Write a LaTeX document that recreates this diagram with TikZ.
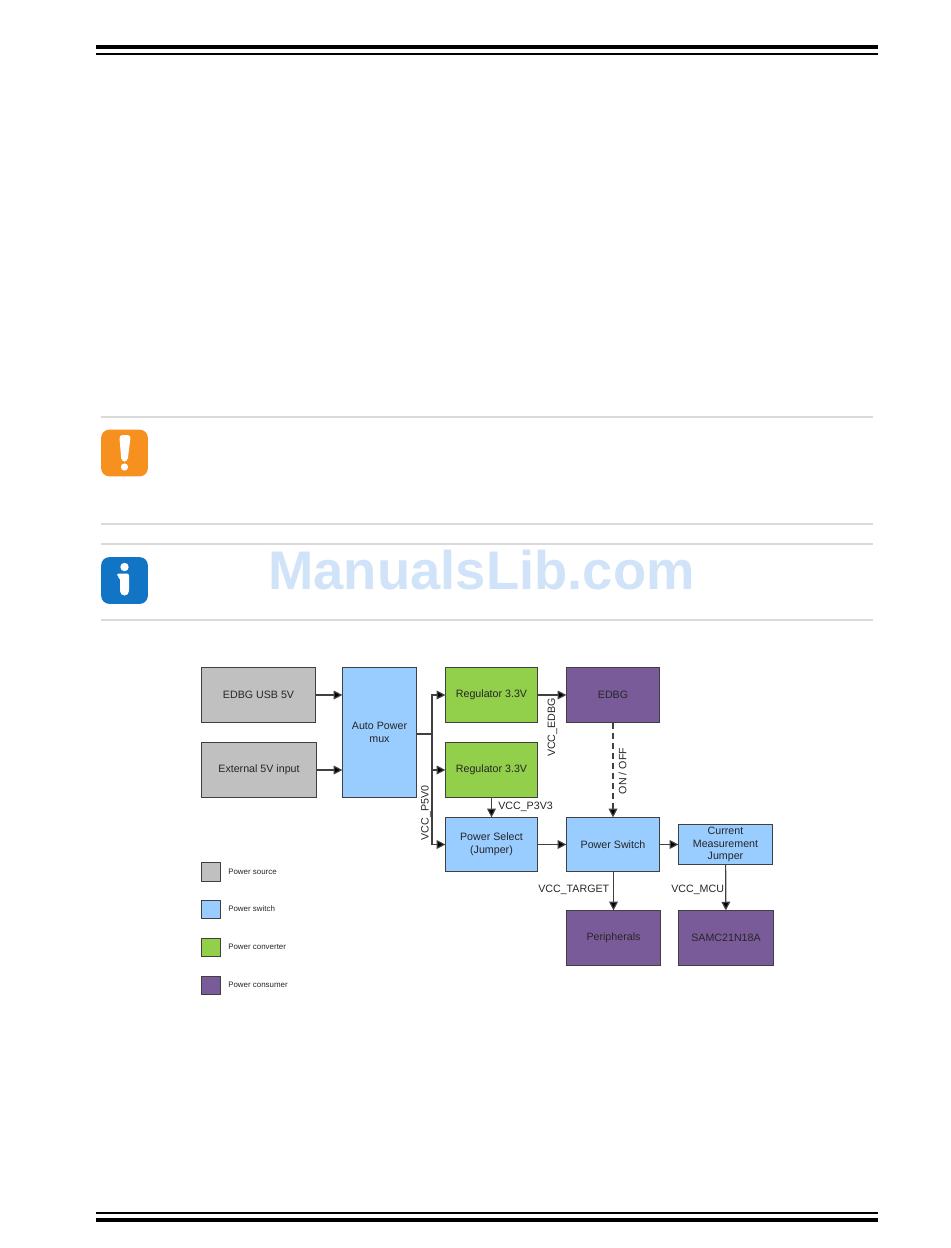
\documentclass[tikz,border=0pt]{standalone}
\usepackage{fontspec}
\setmainfont{Liberation Sans}
\usetikzlibrary{arrows.meta}
\definecolor{srcgray}{HTML}{C0C0C0}
\definecolor{swblue}{HTML}{99CCFF}
\definecolor{convgreen}{HTML}{92CF4A}
\definecolor{conspurple}{HTML}{7A5B99}
\definecolor{edgegray}{HTML}{404040}
\definecolor{rulegray}{HTML}{DADADA}
\definecolor{marktext}{HTML}{D0E3F9}
\definecolor{warnorange}{HTML}{F6901E}
\definecolor{infoblue}{HTML}{1274C4}
\definecolor{labeltext}{HTML}{262626}
\tikzset{
  x=0.75pt,y=-0.75pt,
  blockbox/.style={draw=edgegray,line width=0.85pt,inner sep=0pt,outer sep=0pt,align=center,font=\fontsize{8}{9.6}\selectfont,text=labeltext},
  srcbox/.style={blockbox,fill=srcgray},
  swbox/.style={blockbox,fill=swblue},
  convbox/.style={blockbox,fill=convgreen},
  consbox/.style={blockbox,fill=conspurple},
  wire/.style={draw=edgegray,line width=0.9pt},
  arrowwire/.style={wire,-{Triangle[length=6.5pt,width=6.5pt,fill=black]}},
  sig/.style={font=\fontsize{8}{9}\selectfont,text=labeltext,inner sep=0pt},
  legendtext/.style={font=\fontsize{5.95}{7}\selectfont,text=labeltext,inner sep=0pt,anchor=west},
  thickbar/.style={draw=black,line width=3.2pt},
  thinbar/.style={draw=black,line width=1.2pt},
  grayrule/.style={draw=rulegray,line width=1.4pt},
  iconbox/.style={rounded corners=6pt,draw=none,inner sep=0pt,minimum width=35pt,minimum height=35pt},
}
\newcommand{\blk}[7]{\node[#1,minimum width=#5*0.75pt-#4*0.75pt-0.6pt,minimum height=#7*0.75pt-#6*0.75pt-0.6pt] (#2) at ({(#4+#5)/2},{(#6+#7)/2}) {#3};}
\begin{document}
\begin{tikzpicture}
\useasboundingbox (0,0) rectangle (950,1248);
% page bars
\draw[thickbar] (96,47) -- (878,47);
\draw[thinbar] (96,54.2) -- (878,54.2);
\draw[thinbar] (96,1213) -- (878,1213);
\draw[thickbar] (96,1220) -- (878,1220);
% gray rules
\draw[grayrule] (101,417) -- (873,417);
\draw[grayrule] (101,524) -- (873,524);
\draw[grayrule] (101,544) -- (873,544);
\draw[grayrule] (101,620) -- (873,620);
% watermark
\node[inner sep=0pt,text=marktext,font=\bfseries\fontsize{40.8}{41}\selectfont] (mark) at (481.5,570) {ManualsLib.com};
% icons
\node[iconbox,fill=warnorange] (warnicon) at (124.5,453) {};
\fill[white,rounded corners=2.5pt] (119.2,435) -- (130.8,435) -- (127.5,461.5) -- (121.5,461.5) -- cycle;
\fill[white] (124.5,467) circle[radius=3.6];
\node[iconbox,fill=infoblue] (infoicon) at (124.5,580.5) {};
\fill[white] (124.5,567) circle[radius=4.2];
\fill[white,rounded corners=1.5pt] (117,573.5) -- (129,573.5) -- (129,591) -- (120,591) -- (120,577.5) -- (117,576.5) -- cycle;
\fill[white] (124.5,591) circle[radius=4.5];
% blocks
\blk{srcbox}{usb}{EDBG USB 5V}{201}{316}{667}{723}
\blk{srcbox}{ext}{External 5V input}{201.5}{316.5}{742}{798}
\blk{swbox}{mux}{Auto Power\\mux}{342}{417}{667}{798}
\blk{convbox}{regone}{Regulator 3.3V}{445}{538}{667}{723}
\blk{convbox}{regtwo}{Regulator 3.3V}{445}{538}{742}{798}
\blk{swbox}{sel}{Power Select\\(Jumper)}{445}{538}{817}{872}
\blk{consbox}{edbg}{EDBG}{566}{660}{667}{723}
\blk{swbox}{pswitch}{Power Switch}{566}{660}{817}{872}
\blk{swbox}{meas}{Current\\Measurement\\Jumper}{678}{773}{824}{865}
\blk{consbox}{periph}{Peripherals}{566}{661}{910}{966}
\blk{consbox}{samc}{SAMC21N18A}{678}{774}{910}{966}
% legend
\blk{srcbox}{lgsrc}{}{201}{221}{862}{882}
\blk{swbox}{lgsw}{}{201}{221}{900}{919}
\blk{convbox}{lgconv}{}{201}{221}{938}{957}
\blk{consbox}{lgcons}{}{201}{221}{976}{995}
\node[legendtext] (ltsrc) at (228,872) {Power source};
\node[legendtext] (ltsw) at (228,909) {Power switch};
\node[legendtext] (ltconv) at (228,947) {Power converter};
\node[legendtext] (ltcons) at (228,985) {Power consumer};
% connectors
\coordinate (junction) at (432,734);
\draw[arrowwire] (usb) -- (mux.west |- usb);
\draw[arrowwire] (ext) -- (mux.west |- ext);
\draw[wire] (mux.east |- junction) -- (junction);
\draw[arrowwire] (junction) |- (regone);
\draw[arrowwire] (junction) |- (regtwo);
\draw[arrowwire] (junction) |- (sel);
\draw[arrowwire] (regone) -- (edbg);
\draw[arrowwire] (regtwo) -- (sel);
\draw[arrowwire,dash pattern=on 5pt off 2.5pt] (edbg) -- (pswitch);
\draw[arrowwire] (sel) -- (pswitch);
\draw[arrowwire] (pswitch.east |- sel) -- (meas.west |- sel);
\draw[arrowwire] (pswitch.south -| periph) -- (periph);
\draw[arrowwire] (meas) -- (samc);
% signal labels
\node[sig,rotate=90] (lp5) at (426,813) {VCC\_P5V0};
\node[sig,rotate=90] (ledbg) at (552.5,727.5) {VCC\_EDBG};
\node[sig,rotate=90] (lonoff) at (622.5,771) {ON / OFF};
\node[sig,anchor=west] (lp3) at (498,807) {VCC\_P3V3};
\node[sig,anchor=west] (ltarget) at (538,890) {VCC\_TARGET};
\node[sig,anchor=west] (lmcu) at (671,890) {VCC\_MCU};
\end{tikzpicture}
\end{document}
